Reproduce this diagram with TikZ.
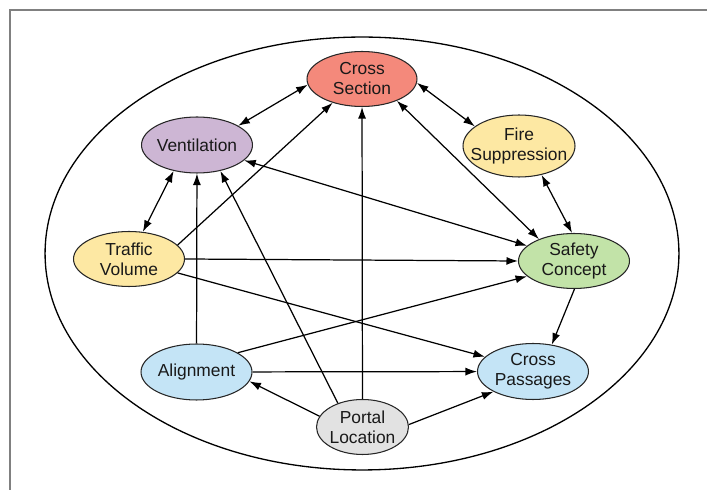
\documentclass[tikz,border=0pt]{standalone}
\usepackage{fontspec}
\setmainfont{Liberation Sans}
\usetikzlibrary{shapes.geometric,arrows.meta}
\definecolor{sectionred}{HTML}{F4897B}
\definecolor{ventpurple}{HTML}{CDB6D4}
\definecolor{fireyellow}{HTML}{FDE8A3}
\definecolor{safetygreen}{HTML}{C2E3A8}
\definecolor{alignblue}{HTML}{C4E4F6}
\definecolor{portalgray}{HTML}{E2E2E2}
\begin{document}
\begin{tikzpicture}[x=0.02cm,y=0.02cm,
  factor/.style={ellipse,draw=black!85,line width=0.6pt,inner xsep=-20pt,inner ysep=-15pt,
    minimum width=2.22cm,minimum height=1.12cm,align=center,text=black!90,
    font=\fontsize{9.9}{11.4}\selectfont},
  link/.style={line width=0.7pt,-{Latex[length=2.3mm,width=1.6mm]}},
  both/.style={line width=0.7pt,{Latex[length=2.3mm,width=1.6mm]}-{Latex[length=2.3mm,width=1.6mm]}}]

  \useasboundingbox (0,0) rectangle (707,490);

  % frame
  \draw[gray,line width=1.1pt] (9,480) -- (707,480);
  \draw[gray,line width=1.1pt] (10,480) -- (10,0);

  \draw[line width=0.75pt] (362,236.5) ellipse [x radius=6.34cm, y radius=4.33cm];

  \node[factor,fill=sectionred,minimum width=2.2cm,minimum height=1.1cm] (cs) at (362,411) {Cross\\Section};
  \node[factor,fill=ventpurple] (vent) at (197,345) {Ventilation};
  \node[factor,fill=fireyellow,minimum width=2.24cm,minimum height=1.24cm] (fire) at (519,344) {Fire\\Suppression};
  \node[factor,fill=fireyellow,minimum height=1.1cm] (traffic) at (129,231) {Traffic\\Volume};
  \node[factor,fill=safetygreen,minimum height=1.1cm] (safety) at (574,229) {Safety\\Concept};
  \node[factor,fill=alignblue] (align) at (196.5,118) {Alignment};
  \node[factor,fill=alignblue] (passages) at (533,118.5) {Cross\\Passages};
  \node[factor,fill=portalgray,minimum width=1.84cm,minimum height=1.1cm] (portal) at (362.5,63) {Portal\\Location};

  \draw[both] (vent.25) -- (cs.186);
  \draw[both] (cs.356) -- (fire.156);
  \draw[both] (vent.228) -- (traffic.63);
  \draw[both] (fire.308) -- (safety.94);
  \draw[both] (cs.328) -- (safety.148);
  \draw[both] (vent.342) -- (safety.162);

  \draw[link] (traffic.16) -- (cs.219);
  \draw[link] (traffic.0) -- (safety.180);
  \draw[link] (traffic.344) -- (passages.163);
  \draw[link] (align) -- (vent);
  \draw[link] (align.25) -- (safety.198);
  \draw[link] (align) -- (passages);
  \draw[link] (portal.136) -- (vent.312);
  \draw[link] (portal) -- (cs);
  \draw[link] (portal.166) -- (align.350);
  \draw[link] (portal.3) -- (passages.207);
  \draw[link] (safety.271) -- (passages.55);

\end{tikzpicture}
\end{document}
